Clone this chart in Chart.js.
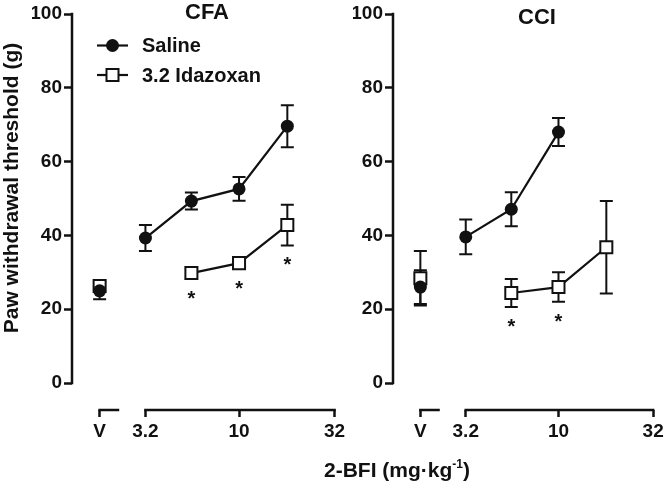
<!DOCTYPE html>
<html><head><meta charset="utf-8">
<script src="https://cdn.jsdelivr.net/npm/chart.js@4.4.1/dist/chart.umd.min.js"></script>
<style>
html,body{margin:0;padding:0;background:#fff;}
#wrap{position:relative;width:670px;height:486px;overflow:hidden;}
canvas{position:absolute;left:0;top:0;}
</style></head><body>
<div id="wrap"><canvas id="cfa" width="670" height="486"></canvas><canvas id="cci" width="670" height="486"></canvas></div>
<script>
// ---- data ----
const doses = [3.2, 5.6, 10, 18];            // 2-BFI, mg/kg
const xTickLabels = ['V', '3.2', '10', '32'];
const xTickDoses = [3.2, 10, 32];            // log-scale tick doses (V sits on its own segment)
const yTicks = [0, 20, 40, 60, 80, 100];
const groupNames = ['Saline', '3.2 Idazoxan'];
const panelTitles = ['CFA', 'CCI'];

const cfaSaline      = [39.3, 49.3, 52.6, 69.6];
const cfaSalineSem   = [3.5, 2.3, 3.2, 5.7];
const cfaIdazoxan    = [null, 29.8, 32.5, 42.8];
const cfaIdazoxanSem = [null, 1.5, 1.5, 5.5];
const cfaVehicle     = [25.0, 26.3];   // saline, idazoxan
const cfaVehicleSem  = [2.3, 1.5];
const cfaSignificant = [false, true, true, true];

const cciSaline      = [39.6, 47.1, 68.0, null];
const cciSalineSem   = [4.7, 4.6, 3.8, null];
const cciIdazoxan    = [null, 24.4, 26.0, 36.8];
const cciIdazoxanSem = [null, 3.8, 4.0, 12.5];
const cciVehicle     = [26.0, 28.4];
const cciVehicleSem  = [4.6, 7.4];
const cciSignificant = [false, true, true, false];

// ---- layout / style ----
const FONT = "'Liberation Sans', Arial, Helvetica, sans-serif";
const INK = '#111';
const V_POS = 0.263;      // position of vehicle point on the log10 axis
const V_END = 0.36;       // end of the short vehicle axis segment
const X_MIN = 0.117, X_MAX = 1.539;

Chart.defaults.font.family = FONT;
Chart.defaults.font.weight = 'bold';
Chart.defaults.color = INK;

function lg(d){ return Math.log10(d); }
function series(vals){ return doses.map((d,i)=>({x:lg(d), y:vals[i]})); }

const decorPlugin = {
  id: 'decor',
  beforeDatasetsDraw(chart){
    const {ctx, chartArea:a, scales:{x, y}} = chart;
    ctx.save();
    ctx.strokeStyle = INK; ctx.lineWidth = 2.5; ctx.lineCap = 'square';
    // y axis from 0 to 100
    ctx.beginPath();
    ctx.moveTo(a.left, y.getPixelForValue(yTicks[0]));
    ctx.lineTo(a.left, y.getPixelForValue(yTicks[yTicks.length-1]));
    ctx.stroke();
    // segmented x axis
    ctx.beginPath();
    ctx.moveTo(x.getPixelForValue(V_POS), a.bottom);
    ctx.lineTo(x.getPixelForValue(V_END), a.bottom);
    ctx.moveTo(x.getPixelForValue(lg(xTickDoses[0])), a.bottom);
    ctx.lineTo(x.getPixelForValue(lg(xTickDoses[xTickDoses.length-1])), a.bottom);
    ctx.stroke();
    // error bars
    ctx.lineWidth = 2; ctx.lineCap = 'butt';
    chart.data.datasets.forEach(ds => {
      if (!ds.sem) return;
      ds.data.forEach((p, i) => {
        const s = ds.sem[i];
        if (p.y == null || s == null) return;
        const px = x.getPixelForValue(p.x);
        const yt = y.getPixelForValue(p.y + s), yb = y.getPixelForValue(p.y - s);
        ctx.beginPath();
        ctx.moveTo(px, yt); ctx.lineTo(px, yb);
        ctx.moveTo(px-6.5, yt); ctx.lineTo(px+6.5, yt);
        ctx.moveTo(px-6.5, yb); ctx.lineTo(px+6.5, yb);
        ctx.stroke();
      });
    });
    ctx.restore();
  },
  afterDatasetsDraw(chart){
    const o = chart.options.plugins.decor;
    const {ctx, scales:{x, y}} = chart;
    ctx.save();
    ctx.fillStyle = INK;
    // panel title
    ctx.font = 'bold 22px ' + FONT;
    ctx.textAlign = 'center'; ctx.textBaseline = 'alphabetic';
    ctx.fillText(o.title, o.titleX, o.titleY);
    // significance stars
    ctx.font = 'bold 20px ' + FONT;
    o.sig.forEach((f, i) => {
      if (!f) return;
      const py = y.getPixelForValue(o.idaz[i] - o.idazSem[i]) + 15;
      ctx.fillText('*', x.getPixelForValue(lg(doses[i])), py + 11);
    });
    if (o.legend) {
      const rows = [{name: groupNames[0], y: 45.5, style: 'circle'}, {name: groupNames[1], y: 75, style: 'rect'}];
      rows.forEach(r => {
        ctx.strokeStyle = INK; ctx.lineWidth = 2.2;
        ctx.beginPath(); ctx.moveTo(97, r.y); ctx.lineTo(128, r.y); ctx.stroke();
        ctx.beginPath();
        if (r.style === 'circle') { ctx.arc(112.5, r.y, 6.5, 0, Math.PI*2); ctx.fillStyle = INK; ctx.fill(); }
        else { ctx.rect(106.5, r.y-6, 12, 12); ctx.fillStyle = '#fff'; ctx.fill(); ctx.lineWidth = 2; ctx.stroke(); }
        ctx.fillStyle = INK;
        ctx.font = 'bold 20px ' + FONT;
        ctx.textAlign = 'left'; ctx.textBaseline = 'middle';
        ctx.fillText(r.name, 142, r.y + 1);
      });
    }
    if (o.axisTitles) {
      // y title
      ctx.save();
      ctx.translate(12, 188); ctx.rotate(-Math.PI/2);
      ctx.font = 'bold 21px ' + FONT;
      ctx.textAlign = 'center'; ctx.textBaseline = 'middle';
      ctx.fillText('Paw withdrawal threshold (g)', 0, 0);
      ctx.restore();
      // x title with superscript
      const main = '2-BFI (mg\u00B7kg', sup = '-1', end = ')';
      ctx.textBaseline = 'alphabetic'; ctx.textAlign = 'left';
      ctx.font = 'bold 21px ' + FONT; const w1 = ctx.measureText(main).width, w3 = ctx.measureText(end).width;
      ctx.font = 'bold 12px ' + FONT; const w2 = ctx.measureText(sup).width;
      let sx = 397 - (w1 + w2 + w3)/2;
      const base = 477;
      ctx.font = 'bold 21px ' + FONT; ctx.fillText(main, sx, base); sx += w1;
      ctx.font = 'bold 12px ' + FONT; ctx.fillText(sup, sx, base - 9); sx += w2;
      ctx.font = 'bold 21px ' + FONT; ctx.fillText(end, sx, base);
    }
    ctx.restore();
  }
};

function makeChart(id, saline, salineSem, idaz, idazSem, veh, vehSem, sig, opt){
  const lineStyle = {borderColor: INK, borderWidth: 2.2, tension: 0, spanGaps: false};
  return new Chart(document.getElementById(id), {
    type: 'line',
    data: { datasets: [
      Object.assign({label: groupNames[0], data: series(saline), sem: salineSem,
        pointStyle: 'circle', pointRadius: 6.5, pointBackgroundColor: INK, pointBorderColor: INK, pointBorderWidth: 0}, lineStyle),
      Object.assign({label: groupNames[1], data: series(idaz), sem: idazSem,
        pointStyle: 'rect', pointRadius: 8.5, pointBackgroundColor: '#fff', pointBorderColor: INK, pointBorderWidth: 2}, lineStyle),
      {label: groupNames[0] + ' V', data: [{x: V_POS, y: veh[0]}], sem: [vehSem[0]], showLine: false,
        pointStyle: 'circle', pointRadius: 6.5, pointBackgroundColor: INK, pointBorderColor: INK, pointBorderWidth: 0},
      {label: groupNames[1] + ' V', data: [{x: V_POS, y: veh[1]}], sem: [vehSem[1]], showLine: false,
        pointStyle: 'rect', pointRadius: 8.5, pointBackgroundColor: '#fff', pointBorderColor: INK, pointBorderWidth: 2}
    ]},
    options: {
      responsive: false, animation: false,
      layout: {padding: opt.padding},
      plugins: {legend: {display: false}, tooltip: {enabled: false},
        decor: {title: opt.title, titleX: opt.titleX, titleY: opt.titleY, sig: sig, idaz: idaz, idazSem: idazSem,
                legend: opt.legend, axisTitles: opt.axisTitles}},
      scales: {
        x: {type: 'linear', min: X_MIN, max: X_MAX,
          afterBuildTicks: s => { s.ticks = [V_POS].concat(xTickDoses.map(lg)).map(v => ({value: v})); },
          afterFit: s => { s.height = 40; s.paddingLeft = 0; s.paddingRight = 0; },
          ticks: {callback: (v, i) => xTickLabels[i], font: {size: 19, weight: 'bold'}, color: INK, padding: 3,
                  maxRotation: 0, autoSkip: false},
          grid: {drawOnChartArea: false, drawTicks: true, tickLength: 7, tickWidth: 2.5, tickColor: INK},
          border: {display: false}},
        y: {type: 'linear', min: -7.3, max: 100,
          afterBuildTicks: s => { s.ticks = yTicks.map(v => ({value: v})); },
          afterFit: s => { s.width = 40; s.paddingTop = 0; s.paddingBottom = 0; },
          ticks: {font: {size: 19, weight: 'bold'}, color: INK, padding: 2},
          grid: {drawOnChartArea: false, drawTicks: true, tickLength: 8, tickWidth: 2.5, tickColor: INK},
          border: {display: false}}
      }
    },
    plugins: [decorPlugin]
  });
}

makeChart('cfa', cfaSaline, cfaSalineSem, cfaIdazoxan, cfaIdazoxanSem, cfaVehicle, cfaVehicleSem, cfaSignificant,
  {padding: {left: 32, right: 329, top: 14, bottom: 36}, title: panelTitles[0], titleX: 207, titleY: 19, legend: true, axisTitles: true});
makeChart('cci', cciSaline, cciSalineSem, cciIdazoxan, cciIdazoxanSem, cciVehicle, cciVehicleSem, cciSignificant,
  {padding: {left: 353, right: 4, top: 14, bottom: 36}, title: panelTitles[1], titleX: 537, titleY: 24, legend: false, axisTitles: false});
</script>
</body></html>
